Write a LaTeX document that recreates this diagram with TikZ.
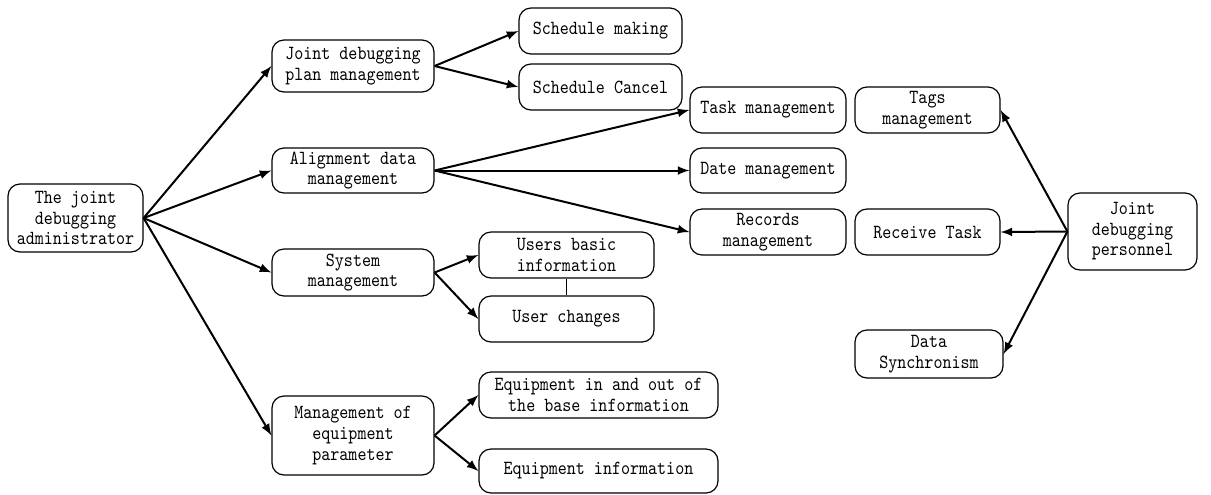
\documentclass[tikz,border=0pt]{standalone}
\usepackage{fontspec}
\newfontfamily\boxfont[FakeStretch=0.86]{lmmono10-regular.otf}
\usetikzlibrary{arrows}

\begin{document}
\begin{tikzpicture}[
        x=0.5pt, y=-0.5pt,
        >=latex,
        box/.style={
            draw,
            line width=0.6pt,
            rounded corners=6pt,
            inner sep=0pt,
            align=center,
            font=\boxfont\fontsize{10pt}{10.3pt}\selectfont
        },
        arr/.style={
            ->,
            line width=1pt
        }
    ]
        \useasboundingbox (0,0) rectangle (1211,494);

        % administrator side
        \node[box, minimum width=67.5pt, minimum height=34pt] (admin) at (75.5,218) {
            The joint\\
            debugging\\
            administrator
        };

        \node[box, minimum width=81pt, minimum height=26pt] (plan) at (353,66) {
            Joint debugging\\
            plan management
        };
        \node[box, minimum width=81pt, minimum height=22.5pt] (align) at (353,170.5) {
            Alignment data\\
            management
        };
        \node[box, minimum width=81pt, minimum height=23.5pt] (system) at (353,272.5) {
            System\\
            management
        };
        \node[box, minimum width=81pt, minimum height=39.5pt] (equip) at (353,435.5) {
            Management of\\
            equipment\\
            parameter
        };

        \node[box, minimum width=81.5pt, minimum height=23pt] (smake) at (600.5,31) {Schedule making};
        \node[box, minimum width=81.5pt, minimum height=23pt] (scancel) at (600.5,87) {Schedule Cancel};

        \node[box, minimum width=78pt, minimum height=23pt] (task) at (768,110) {Task management};
        \node[box, minimum width=78pt, minimum height=22.5pt] (date) at (768,170.5) {Date management};
        \node[box, minimum width=78pt, minimum height=23pt] (records) at (768,232) {
            Records\\
            management
        };

        \node[box, minimum width=87.5pt, minimum height=23pt] (users) at (566.5,255) {
            Users basic\\
            information
        };
        \node[box, minimum width=87.5pt, minimum height=23pt] (uchg) at (566.5,319) {User changes};

        \node[box, minimum width=119.5pt, minimum height=23pt] (eqio) at (598.5,395) {
            Equipment in and out of\\
            the base information
        };
        \node[box, minimum width=119.5pt, minimum height=22pt] (eqinfo) at (598.5,471) {Equipment information};

        % personnel side
        \node[box, minimum width=72.5pt, minimum height=23pt] (tags) at (927.5,110) {
            Tags\\
            management
        };
        \node[box, minimum width=72.5pt, minimum height=23pt] (receive) at (927.5,232) {Receive Task};
        \node[box, minimum width=74pt, minimum height=24pt] (sync) at (929,354) {
            Data\\
            Synchronism
        };
        \node[box, minimum width=64.5pt, minimum height=38.5pt] (person) at (1132.5,231.5) {
            Joint\\
            debugging\\
            personnel
        };

        \draw[arr] (admin.east) -- (plan.west);
        \draw[arr] (admin.east) -- (align.west);
        \draw[arr] (admin.east) -- (system.west);
        \draw[arr] (admin.east) -- (equip.west);

        \draw[arr] (plan.east) -- (smake.west);
        \draw[arr] (plan.east) -- (scancel.west);

        \draw[arr] (align.east) -- (task.west);
        \draw[arr] (align.east) -- (date.west);
        \draw[arr] (align.east) -- (records.west);

        \draw[arr] (system.east) -- (users.west);
        \draw[arr] (system.east) -- (uchg.west);
        \draw[line width=0.6pt] (users.south) -- (uchg.north);

        \draw[arr] (equip.east) -- (eqio.west);
        \draw[arr] (equip.east) -- (eqinfo.west);

        \draw[arr] (person.west) -- (tags.east);
        \draw[arr] (person.west) -- (receive.east);
        \draw[arr] (person.west) -- (sync.east);
    \end{tikzpicture}
\end{document}
